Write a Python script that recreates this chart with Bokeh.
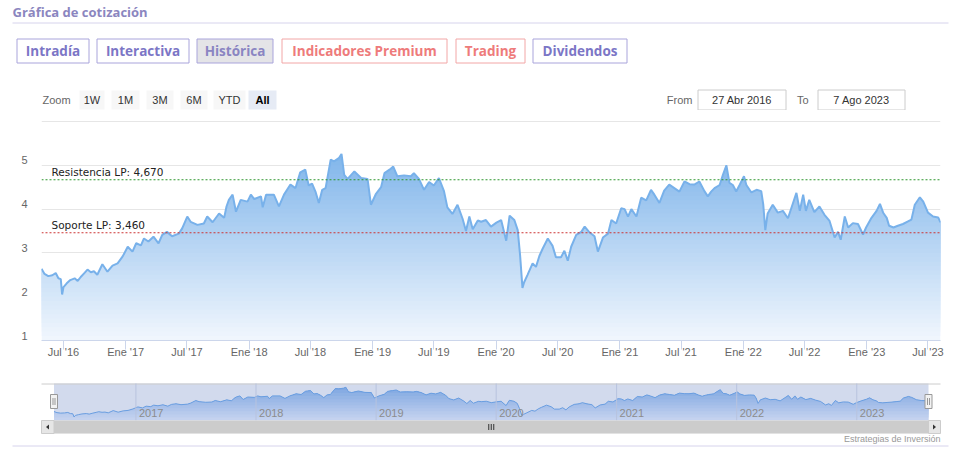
import numpy as np
import pandas as pd
from bokeh.plotting import figure
from bokeh.layouts import column, row
from bokeh.models import Range1d, LinearAxis, FixedTicker, Grid, Span, Label
from bokeh.embed import file_html
from bokeh.resources import INLINE
from bokeh.core.properties import value

# ---------------- data ----------------
dates = [
    "2016-04-27", "2016-05-06", "2016-05-17", "2016-05-29", "2016-06-08", "2016-06-16", "2016-06-23",
    "2016-06-27", "2016-07-01", "2016-07-10", "2016-07-21", "2016-08-03", "2016-08-12", "2016-08-21",
    "2016-09-02", "2016-09-10", "2016-09-20", "2016-09-29", "2016-10-09", "2016-10-24", "2016-11-08",
    "2016-11-23", "2016-12-08", "2016-12-23", "2017-01-07", "2017-01-21", "2017-02-01", "2017-02-15",
    "2017-02-24", "2017-03-09", "2017-03-24", "2017-04-08", "2017-04-19", "2017-05-03", "2017-05-18",
    "2017-06-07", "2017-06-17", "2017-07-02", "2017-07-12", "2017-08-01", "2017-08-20", "2017-08-30",
    "2017-09-15", "2017-10-04", "2017-10-19", "2017-10-26", "2017-11-02", "2017-11-13", "2017-11-23",
    "2017-12-07", "2017-12-27", "2018-01-06", "2018-01-16", "2018-02-05", "2018-02-10", "2018-02-20",
    "2018-03-15", "2018-03-30", "2018-04-14", "2018-05-03", "2018-05-18", "2018-06-01", "2018-06-16",
    "2018-06-26", "2018-07-06", "2018-07-16", "2018-07-26", "2018-08-05", "2018-08-15", "2018-08-30",
    "2018-09-09", "2018-09-24", "2018-10-01", "2018-10-09", "2018-10-19", "2018-11-08", "2018-11-28",
    "2018-12-17", "2018-12-27", "2019-01-11", "2019-01-26", "2019-02-05", "2019-02-20", "2019-03-03",
    "2019-03-15", "2019-04-04", "2019-04-24", "2019-05-03", "2019-05-18", "2019-06-02", "2019-06-17",
    "2019-07-01", "2019-07-16", "2019-07-31", "2019-08-10", "2019-08-25", "2019-09-09", "2019-09-24",
    "2019-10-04", "2019-10-14", "2019-10-24", "2019-11-08", "2019-11-18", "2019-12-02", "2019-12-17",
    "2020-01-02", "2020-01-16", "2020-01-31", "2020-02-10", "2020-02-24", "2020-03-05", "2020-03-12",
    "2020-03-19", "2020-03-24", "2020-04-03", "2020-04-18", "2020-04-28", "2020-05-08", "2020-05-18",
    "2020-06-02", "2020-06-16", "2020-06-26", "2020-07-11", "2020-07-21", "2020-07-31", "2020-08-10",
    "2020-08-25", "2020-09-09", "2020-09-19", "2020-10-03", "2020-10-18", "2020-10-28", "2020-11-12",
    "2020-11-27", "2020-12-07", "2020-12-21", "2021-01-05", "2021-01-15", "2021-01-25", "2021-02-04",
    "2021-02-19", "2021-03-05", "2021-03-20", "2021-04-03", "2021-04-13", "2021-04-28", "2021-05-12",
    "2021-05-27", "2021-06-11", "2021-06-26", "2021-07-11", "2021-07-26", "2021-08-09", "2021-08-24",
    "2021-09-08", "2021-09-18", "2021-09-28", "2021-10-08", "2021-10-23", "2021-11-02", "2021-11-12",
    "2021-11-21", "2021-12-01", "2021-12-11", "2021-12-21", "2022-01-03", "2022-01-10", "2022-01-25",
    "2022-02-09", "2022-02-23", "2022-03-01", "2022-03-07", "2022-03-14", "2022-03-29", "2022-04-13",
    "2022-04-28", "2022-05-13", "2022-05-28", "2022-06-07", "2022-06-17", "2022-06-27", "2022-07-05",
    "2022-07-15", "2022-07-30", "2022-08-14", "2022-08-29", "2022-09-13", "2022-09-28", "2022-10-08",
    "2022-10-16", "2022-10-28", "2022-11-07", "2022-11-21", "2022-12-06", "2022-12-21", "2022-12-30",
    "2023-01-15", "2023-01-30", "2023-02-09", "2023-02-19", "2023-03-01", "2023-03-08", "2023-03-21",
    "2023-04-03", "2023-04-18", "2023-05-03", "2023-05-13", "2023-05-23", "2023-06-07", "2023-06-17",
    "2023-07-01", "2023-07-16", "2023-07-31", "2023-08-07",
]
prices = [
    2.64, 2.52, 2.47, 2.49, 2.54, 2.42, 2.40,
    2.05, 2.22, 2.30, 2.38, 2.42, 2.36, 2.45,
    2.55, 2.62, 2.56, 2.58, 2.50, 2.74, 2.57,
    2.71, 2.76, 2.92, 3.14, 3.03, 3.22, 3.17,
    3.33, 3.26, 3.37, 3.22, 3.41, 3.48, 3.38,
    3.44, 3.56, 3.83, 3.71, 3.64, 3.67, 3.83,
    3.70, 3.90, 3.80, 4.06, 4.21, 4.33, 3.94,
    4.21, 4.17, 4.33, 4.23, 4.29, 4.04, 4.33,
    4.33, 4.06, 4.33, 4.56, 4.48, 4.84, 4.90,
    4.54, 4.58, 4.40, 4.14, 4.44, 4.48, 5.13,
    5.09, 5.17, 5.26, 4.78, 4.69, 4.86, 4.71,
    4.69, 4.10, 4.35, 4.50, 4.82, 4.90, 4.97,
    4.75, 4.77, 4.75, 4.82, 4.69, 4.44, 4.62,
    4.54, 4.71, 4.41, 4.04, 3.89, 4.10, 3.78,
    3.50, 3.83, 3.54, 3.74, 3.71, 3.75, 3.60,
    3.69, 3.75, 3.28, 3.85, 3.75, 3.52, 2.95,
    2.20, 2.33, 2.50, 2.76, 2.68, 2.93, 3.10,
    3.33, 3.16, 2.90, 2.90, 3.05, 2.82, 3.14,
    3.41, 3.48, 3.60, 3.47, 3.38, 3.03, 3.35,
    3.44, 3.75, 3.67, 4.02, 4.00, 3.83, 4.00,
    3.83, 4.26, 4.20, 4.44, 4.33, 4.14, 4.42,
    4.56, 4.48, 4.40, 4.63, 4.57, 4.56, 4.63,
    4.41, 4.29, 4.40, 4.48, 4.55, 4.79, 5.00,
    4.60, 4.55, 4.40, 4.55, 4.75, 4.55, 4.38,
    4.44, 4.41, 4.10, 3.52, 3.90, 4.10, 3.92,
    3.96, 3.79, 4.14, 4.37, 3.96, 4.33, 3.96,
    4.21, 3.93, 4.06, 3.87, 3.73, 3.35, 3.48,
    3.30, 3.83, 3.58, 3.68, 3.66, 3.42, 3.58,
    3.80, 3.96, 4.12, 3.91, 3.80, 3.62, 3.58,
    3.62, 3.66, 3.72, 3.76, 4.10, 4.27, 4.17,
    3.92, 3.83, 3.81, 3.70,
]

x_tick_dates = ["2016-07-01", "2017-01-01", "2017-07-01", "2018-01-01", "2018-07-01", "2019-01-01",
                "2019-07-01", "2020-01-01", "2020-07-01", "2021-01-01", "2021-07-01", "2022-01-01",
                "2022-07-01", "2023-01-01", "2023-07-01"]
x_tick_labels = ["Jul '16", "Ene '17", "Jul '17", "Ene '18", "Jul '18", "Ene '19", "Jul '19", "Ene '20",
                 "Jul '20", "Ene '21", "Jul '21", "Ene '22", "Jul '22", "Ene '23", "Jul '23"]
y_tick_values = [1, 2, 3, 4, 5]
y_grid_values = [1, 2, 3, 4, 5, 6]
nav_year_dates = ["2017-01-01", "2018-01-01", "2019-01-01", "2020-01-01", "2021-01-01", "2022-01-01", "2023-01-01"]
nav_year_labels = ["2017", "2018", "2019", "2020", "2021", "2022", "2023"]
level_values = [4.67, 3.46]
level_labels = ["Resistencia LP: 4,670", "Soporte LP: 3,460"]
level_colors = ["#2e962e", "#cc3535"]
tab_labels = ["Intradía", "Interactiva", "Histórica", "Indicadores Premium", "Trading", "Dividendos"]
zoom_labels = ["1W", "1M", "3M", "6M", "YTD", "All"]
range_from = "27 Abr 2016"
range_to = "7 Ago 2023"
title_text = "Gráfica de cotización"
credits_text = "Estrategias de Inversión"


def to_ms(ds):
    return pd.to_datetime(ds).values.astype("datetime64[ms]").astype("int64").astype(float)


def mix(c0, c1, f):
    return "#%02x%02x%02x" % tuple(int(round(a + (b - a) * f)) for a, b in zip(c0, c1))


def clip_above(xs, ys, a):
    ox, oy = [], []
    for i in range(len(xs)):
        if i > 0:
            y0, y1 = ys[i - 1], ys[i]
            if (y0 - a) * (y1 - a) < 0:
                tt = (a - y0) / (y1 - y0)
                ox.append(xs[i - 1] + tt * (xs[i] - xs[i - 1]))
                oy.append(a)
        ox.append(xs[i])
        oy.append(max(ys[i], a))
    return ox, oy


t = to_ms(dates)
p_arr = np.array(prices, dtype=float)
tick_ms = [int(v) for v in to_ms(x_tick_dates)]
year_ms = to_ms(nav_year_dates)

W = 960
LAB = "Liberation Sans"

# ---------------- header ----------------
HH = 110
hdr = figure(width=W, height=HH, x_range=Range1d(0, W), y_range=Range1d(HH, 0),
             x_axis_type=None, y_axis_type=None, toolbar_location=None,
             output_backend="svg", min_border=0)
hdr.outline_line_color = None

hdr.text(x=[12], y=[11], text=[title_text], text_font=value("Open Sans"), text_font_style="bold",
         text_font_size="13px", text_color="#8b86bf", text_baseline="middle", text_align="left")
hdr.segment(x0=[12], y0=[22.5], x1=[948], y1=[22.5], line_color="#d6d3ec", line_width=1)

tab_left = [16.5, 96.5, 196.5, 281.5, 455.5, 532.5]
tab_right = [88.5, 188.5, 272.5, 446.5, 524.5, 626.5]
purple_t, purple_b = "#7c76c6", "#a9a4db"
red_t, red_b = "#ee7b7b", "#f2a6a6"
tab_tc = [purple_t, purple_t, "#8a85c2", red_t, red_t, purple_t]
tab_lc = [purple_b, purple_b, purple_b, red_b, red_b, purple_b]
tab_fc = ["#ffffff", "#ffffff", "#e4e4e7", "#ffffff", "#ffffff", "#ffffff"]
hdr.quad(left=tab_left, right=tab_right, top=38.5, bottom=62.5, fill_color=tab_fc, line_color=tab_lc, line_width=1)
hdr.text(x=[(a + b) / 2 for a, b in zip(tab_left, tab_right)], y=[50.5] * 6, text=tab_labels,
         text_font=value("Open Sans"), text_font_style="bold", text_font_size="13.5px",
         text_color=tab_tc, text_align="center", text_baseline="middle")

hdr.text(x=[42], y=[99.5], text=["Zoom"], text_font=value(LAB), text_font_size="11px",
         text_color="#666666", text_align="left", text_baseline="middle")
zl = [79, 111, 146, 180, 213, 248]
zr = [104, 139, 173, 207, 245, 276]
z_fill = ["#f7f7f7"] * 5 + ["#e6ebf5"]
hdr.quad(left=zl, right=zr, top=90, bottom=109, fill_color=z_fill, line_color=None)
hdr.text(x=[(a + b) / 2 for a, b in zip(zl[:5], zr[:5])], y=[99.5] * 5, text=zoom_labels[:5],
         text_font=value(LAB), text_font_size="11px", text_color="#333333",
         text_align="center", text_baseline="middle")
hdr.text(x=[(zl[5] + zr[5]) / 2], y=[99.5], text=zoom_labels[5:], text_font=value(LAB),
         text_font_size="11px", text_font_style="bold", text_color="#000000",
         text_align="center", text_baseline="middle")

hdr.text(x=[692, 808], y=[99.5, 99.5], text=["From", "To"], text_font=value(LAB), text_font_size="11px",
         text_color="#666666", text_align="right", text_baseline="middle")
bl = [697.5, 817.5]
br = [785.5, 904.5]
hdr.quad(left=bl, right=br, top=89.5, bottom=109.5, fill_color="#ffffff", line_color="#cccccc")
hdr.text(x=[(a + b) / 2 for a, b in zip(bl, br)], y=[99.5, 99.5], text=[range_from, range_to],
         text_font=value(LAB), text_font_size="11px", text_color="#333333",
         text_align="center", text_baseline="middle")

# ---------------- main chart ----------------
MH = 265
M_TOP, M_BOT, M_LEFT, M_RIGHT = 10, 35, 41, 20
y_lo = 1
ppu = 43.8                      # pixels per price unit
y_hi = y_lo + (MH - M_TOP - M_BOT) / ppu
main = figure(width=W, height=MH, x_range=Range1d(t[0], t[-1]), y_range=Range1d(y_lo, y_hi),
              x_axis_type=None, y_axis_type=None, toolbar_location=None, output_backend="svg",
              min_border_left=M_LEFT, min_border_right=M_RIGHT, min_border_top=M_TOP,
              min_border_bottom=M_BOT)
main.outline_line_color = None
main.add_layout(Grid(dimension=1, ticker=FixedTicker(ticks=y_grid_values),
                     grid_line_color="#e6e6e6", grid_line_width=1))

# y labels sit ~5px above their grid line
shift = 5 / ppu
main.extra_y_ranges = {"lab": Range1d(y_lo - shift, y_hi - shift)}
yax = LinearAxis(y_range_name="lab", ticker=FixedTicker(ticks=y_tick_values),
                 axis_line_color=None, major_tick_line_color=None, minor_tick_line_color=None,
                 major_tick_in=0, major_tick_out=0,
                 major_label_text_font=LAB, major_label_text_font_size="11px",
                 major_label_text_color="#666666", major_label_standoff=14)
main.add_layout(yax, "left")

xax = LinearAxis(ticker=FixedTicker(ticks=tick_ms),
                 major_label_overrides={kk: v for kk, v in zip(tick_ms, x_tick_labels)},
                 axis_line_color="#ccd6eb", major_tick_line_color="#ccd6eb",
                 minor_tick_line_color=None, major_tick_in=0, major_tick_out=9,
                 major_label_standoff=-4, major_label_text_font=LAB,
                 major_label_text_font_size="11px", major_label_text_color="#666666")
main.add_layout(xax, "below")

# gradient area (stacked layers)
top_c, bot_c = (126, 180, 234), (240, 246, 253)
g_top = 5.3
levels = np.linspace(y_lo, g_top, 44)[:-1]
for a in levels:
    f = (a - y_lo) / (g_top - y_lo)
    cx, cy = clip_above(t, p_arr, a)
    main.varea(x=cx, y1=a, y2=cy, fill_color=mix(bot_c, top_c, f), fill_alpha=1.0)
main.line(t, p_arr, line_color="#78b1ea", line_width=2)

for lv, lab, col in zip(level_values, level_labels, level_colors):
    main.add_layout(Span(location=lv, dimension="width", line_color=col, line_dash="2 2", line_width=1))
    main.add_layout(Label(x=t[0], y=lv, x_offset=10, y_offset=2, text=lab, text_font="DejaVu Sans",
                          text_font_size="10.5px", text_color="#222222", text_baseline="bottom"))

# ---------------- navigator ----------------
NH = 77
NAV_L, NAV_R, NAV_T, NAV_B = 53.5, 928, 8, 45
NAV_VTOP, NAV_VBOT = 5.67, 1.67
k = (t[-1] - t[0]) / (NAV_R - NAV_L)
nx0 = t[0] - NAV_L * k
upp = (NAV_VTOP - NAV_VBOT) / (NAV_B - NAV_T)
ny_top = NAV_VTOP + NAV_T * upp
ny_bot = NAV_VTOP - (NH - NAV_T) * upp
nav = figure(width=W, height=NH, x_range=Range1d(nx0, nx0 + W * k), y_range=Range1d(ny_bot, ny_top),
             x_axis_type=None, y_axis_type=None, toolbar_location=None, output_backend="svg",
             min_border=0)
nav.outline_line_color = None
nav.extra_x_ranges = {"px": Range1d(0, W)}
nav.extra_y_ranges = {"px": Range1d(NH, 0)}
PX = dict(x_range_name="px", y_range_name="px")

nav.quad(left=NAV_L, right=NAV_R, top=NAV_T, bottom=NAV_B, fill_color="#d2daed", line_color=None, **PX)
nav.segment(x0=41, y0=NAV_T + 0.5, x1=940, y1=NAV_T + 0.5, line_color="#cccccc", line_width=1, **PX)

ntop_c, nbot_c = (122, 164, 224), (196, 210, 239)
nlev = np.linspace(NAV_VBOT, 5.3, 12)[:-1]
for a in nlev:
    f = (a - NAV_VBOT) / (5.3 - NAV_VBOT)
    cx, cy = clip_above(t, p_arr, a)
    nav.varea(x=cx, y1=a, y2=cy, fill_color=mix(nbot_c, ntop_c, f), fill_alpha=1.0)
nav.line(t, p_arr, line_color="#6a9ee0", line_width=1)

nav.segment(x0=year_ms, y0=NAV_T, x1=year_ms, y1=NAV_B, line_color="#b8c3de", line_width=1,
            y_range_name="px")
nav.text(x=year_ms, y=[37] * len(year_ms), text=nav_year_labels, x_offset=3, text_font=value(LAB),
         text_font_size="11px", text_color="#8c8c8c", text_baseline="middle", text_align="left",
         y_range_name="px")

# handles
for hx in (NAV_L, NAV_R):
    nav.quad(left=hx - 3.5, right=hx + 3.5, top=19, bottom=33, fill_color="#f2f2f2",
             line_color="#999999", line_width=1, **PX)
    nav.segment(x0=[hx - 1, hx + 1], y0=[22.5, 22.5], x1=[hx - 1, hx + 1], y1=[29.5, 29.5],
                line_color="#999999", line_width=1, **PX)

# scrollbar
SB_T, SB_B = 45, 58
nav.quad(left=41, right=940, top=SB_T, bottom=SB_B, fill_color="#f2f2f2", line_color=None, **PX)
nav.quad(left=NAV_L, right=NAV_R, top=SB_T, bottom=SB_B, fill_color="#cccccc", line_color=None, **PX)
nav.quad(left=[41, NAV_R], right=[NAV_L, 940], top=SB_T, bottom=SB_B, fill_color="#e6e6e6",
         line_color="#cccccc", line_width=1, **PX)
mid = (SB_T + SB_B) / 2
nav.patches(xs=[[48.5, 48.5, 45.5], [932.5, 932.5, 935.5]],
            ys=[[mid - 2.5, mid + 2.5, mid], [mid - 2.5, mid + 2.5, mid]],
            fill_color="#333333", line_color=None, **PX)
cxm = (NAV_L + NAV_R) / 2
nav.segment(x0=[cxm - 2.5, cxm, cxm + 2.5], y0=[mid - 3] * 3, x1=[cxm - 2.5, cxm, cxm + 2.5],
            y1=[mid + 3] * 3, line_color="#333333", line_width=1, **PX)

nav.text(x=[940], y=[63], text=[credits_text], text_font=value(LAB), text_font_size="9px",
         text_color="#999999", text_align="right", text_baseline="middle", **PX)
nav.segment(x0=12, y0=70.5, x1=948, y1=70.5, line_color="#d6d3ec", line_width=1, **PX)

layout = column(row(hdr), row(main), row(nav), spacing=0)
open("out.html", "w").write(file_html(layout, INLINE))
